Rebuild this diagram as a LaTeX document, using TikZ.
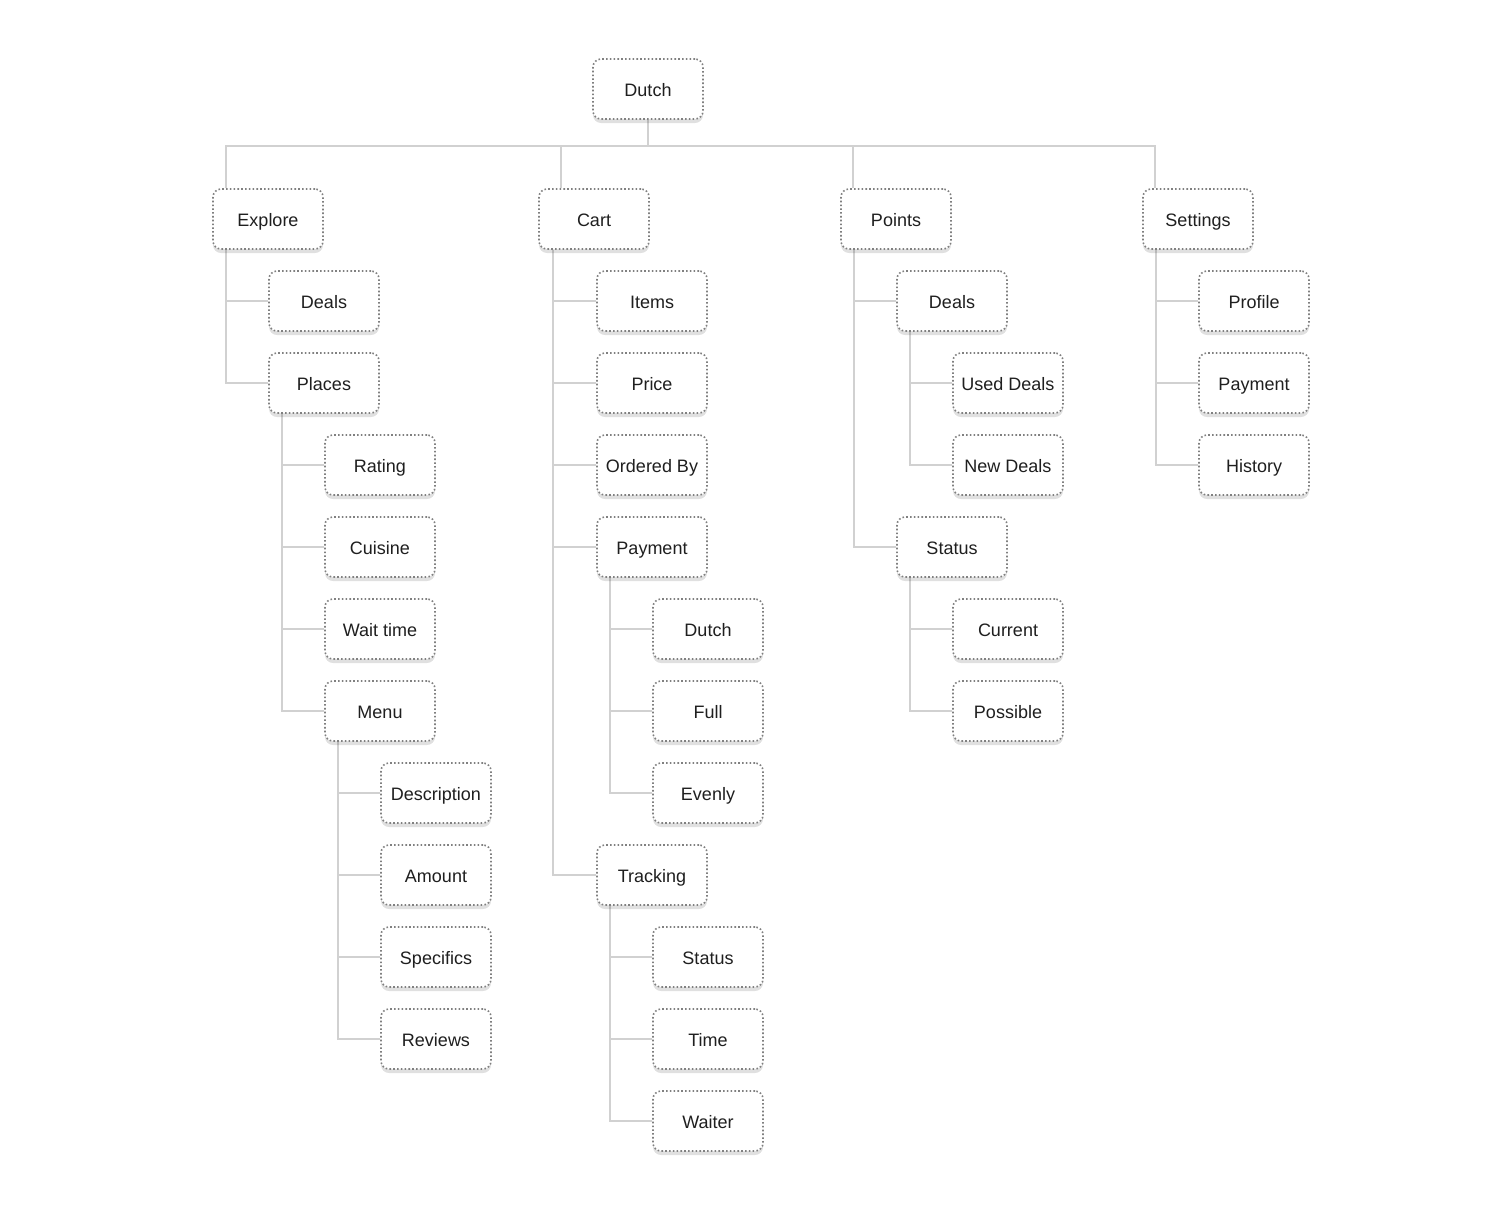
\documentclass[tikz,border=0pt]{standalone}
\usepackage{fontspec}
\setmainfont{Liberation Sans}
\usetikzlibrary{shadows,backgrounds}

\begin{document}
\begin{tikzpicture}[x=1pt,y=-1pt,
    box/.style={draw=black!50, line width=1.6pt, dash pattern=on 1.6pt off 2.2pt,
        rounded corners=8pt, fill=white, minimum width=110pt, minimum height=60pt,
        text=black!88, font=\fontsize{18}{21}\selectfont, text height=15pt, text depth=0pt,
        drop shadow={shadow xshift=0pt, shadow yshift=-4pt, opacity=0.12, fill=black}},
    conn/.style={draw=black!18, line width=1.5pt}]
        \useasboundingbox (0,0) rectangle (1500,1208);

        % root
        \node[box] (dutch) at (648,89) {Dutch};

        % explore
        \node[box] (explore) at (268,219) {Explore};
        \node[box] (exDeals) at (324,301) {Deals};
        \node[box] (places) at (324,383) {Places};
        \node[box] (rating) at (380,465) {Rating};
        \node[box] (cuisine) at (380,547) {Cuisine};
        \node[box] (waitTime) at (380,629) {Wait time};
        \node[box] (menu) at (380,711) {Menu};
        \node[box] (description) at (436,793) {Description};
        \node[box] (amount) at (436,875) {Amount};
        \node[box] (specifics) at (436,957) {Specifics};
        \node[box] (reviews) at (436,1039) {Reviews};

        % cart
        \node[box] (cart) at (594,219) {Cart};
        \node[box] (items) at (652,301) {Items};
        \node[box] (price) at (652,383) {Price};
        \node[box] (orderedBy) at (652,465) {Ordered By};
        \node[box] (payment) at (652,547) {Payment};
        \node[box] (payDutch) at (708,629) {Dutch};
        \node[box] (payFull) at (708,711) {Full};
        \node[box] (payEvenly) at (708,793) {Evenly};
        \node[box] (tracking) at (652,875) {Tracking};
        \node[box] (trStatus) at (708,957) {Status};
        \node[box] (trTime) at (708,1039) {Time};
        \node[box] (trWaiter) at (708,1121) {Waiter};

        % points
        \node[box] (points) at (896,219) {Points};
        \node[box] (ptDeals) at (952,301) {Deals};
        \node[box] (usedDeals) at (1008,383) {Used Deals};
        \node[box] (newDeals) at (1008,465) {New Deals};
        \node[box] (ptStatus) at (952,547) {Status};
        \node[box] (current) at (1008,629) {Current};
        \node[box] (possible) at (1008,711) {Possible};

        % settings
        \node[box] (settings) at (1198,219) {Settings};
        \node[box] (profile) at (1254,301) {Profile};
        \node[box] (setPayment) at (1254,383) {Payment};
        \node[box] (history) at (1254,465) {History};

        \begin{scope}[on background layer]
        % top bus
        \draw[conn] (dutch.south) -- ++(0,26) coordinate (bus);
        \path ([xshift=14pt]explore.north west) coordinate (exIn)
              ([xshift=23pt]cart.north west) coordinate (cartIn)
              ([xshift=13pt]points.north west) coordinate (ptIn)
              ([xshift=13pt]settings.north west) coordinate (setIn);
        \draw[conn] (exIn) |- (bus) -| (setIn);
        \draw[conn] (cartIn) -- (cartIn |- bus);
        \draw[conn] (ptIn) -- (ptIn |- bus);

        % branches
        \foreach \p/\c in {explore/exDeals, explore/places, places/rating, places/cuisine,
            places/waitTime, places/menu, menu/description, menu/amount, menu/specifics,
            menu/reviews, payment/payDutch, payment/payFull, payment/payEvenly,
            tracking/trStatus, tracking/trTime, tracking/trWaiter, points/ptDeals,
            points/ptStatus, ptDeals/usedDeals, ptDeals/newDeals, ptStatus/current,
            ptStatus/possible, settings/profile, settings/setPayment, settings/history}
            \draw[conn] ([xshift=14pt]\p.south west) |- (\c.west);
        \foreach \c in {items, price, orderedBy, payment, tracking}
            \draw[conn] ([xshift=15pt]cart.south west) |- (\c.west);
        \end{scope}
    \end{tikzpicture}
\end{document}
